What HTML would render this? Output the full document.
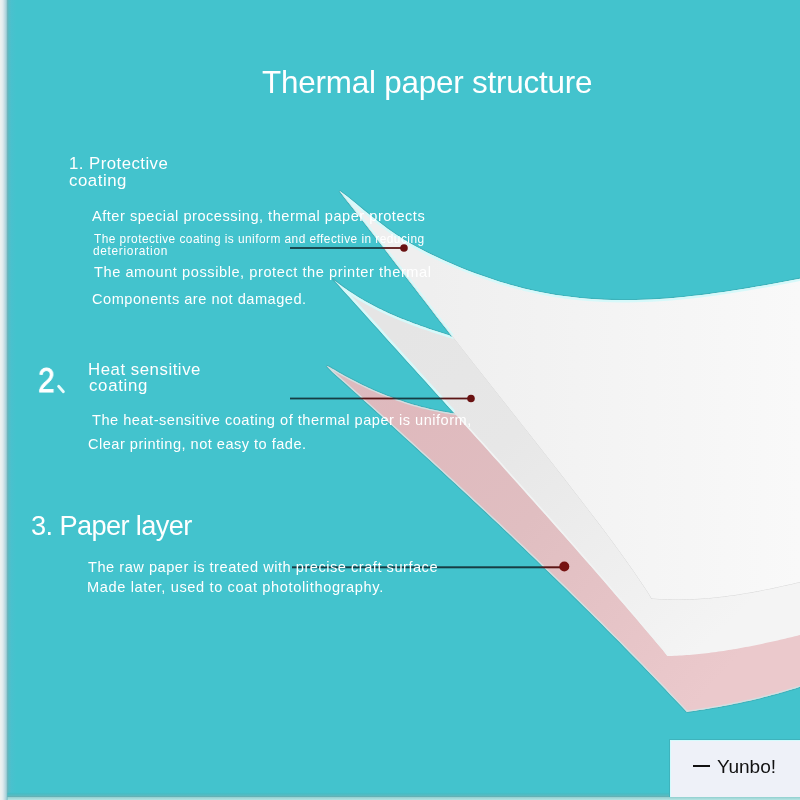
<!DOCTYPE html>
<html>
<head>
<meta charset="utf-8">
<style>
html,body{margin:0;padding:0;}
body{width:800px;height:800px;overflow:hidden;position:relative;background:#43c3cd;font-family:"Liberation Sans",sans-serif;color:#fff;}
.t{position:absolute;white-space:nowrap;line-height:1;will-change:transform;}
svg{position:absolute;left:0;top:0;}
.box{position:absolute;}
</style>
</head>
<body>
<svg width="800" height="800" viewBox="0 0 800 800">
  <defs>
    <linearGradient id="gtop" x1="430" y1="0" x2="800" y2="0" gradientUnits="userSpaceOnUse">
      <stop offset="0" stop-color="#efefef"/><stop offset="0.5" stop-color="#f4f4f4"/><stop offset="1" stop-color="#f9f9f9"/>
    </linearGradient>
    <linearGradient id="ggr" x1="400" y1="330" x2="700" y2="650" gradientUnits="userSpaceOnUse">
      <stop offset="0" stop-color="#e5e5e5"/><stop offset="0.35" stop-color="#e7e7e7"/><stop offset="1" stop-color="#f4f4f4"/>
    </linearGradient>
    <linearGradient id="gpk" x1="330" y1="370" x2="700" y2="700" gradientUnits="userSpaceOnUse">
      <stop offset="0" stop-color="#dcbcc0"/><stop offset="0.15" stop-color="#dfb9bd"/><stop offset="0.5" stop-color="#e0bec1"/><stop offset="1" stop-color="#ebc9cc"/>
    </linearGradient>
    <linearGradient id="gleft" x1="0" y1="0" x2="16" y2="0" gradientUnits="userSpaceOnUse">
      <stop offset="0" stop-color="#eef2ee"/>
      <stop offset="0.125" stop-color="#e6eef0"/>
      <stop offset="0.19" stop-color="#dce9ec"/>
      <stop offset="0.25" stop-color="#cde0e5"/>
      <stop offset="0.31" stop-color="#bedbe2"/>
      <stop offset="0.375" stop-color="#a9d2da"/>
      <stop offset="0.44" stop-color="#8cc4cc"/>
      <stop offset="0.47" stop-color="#6cb4bc"/>
      <stop offset="0.53" stop-color="#5cbac2"/>
      <stop offset="0.62" stop-color="#50bfca"/>
      <stop offset="0.72" stop-color="#49c1ce"/>
      <stop offset="1" stop-color="#43c3cd"/>
    </linearGradient>
    <linearGradient id="gbot" x1="0" y1="792" x2="0" y2="800" gradientUnits="userSpaceOnUse">
      <stop offset="0" stop-color="#43c3cd" stop-opacity="0"/>
      <stop offset="0.2" stop-color="#46bcc4"/>
      <stop offset="0.45" stop-color="#5abac0"/>
      <stop offset="0.56" stop-color="#62b0b4"/>
      <stop offset="0.68" stop-color="#96d2d2"/>
      <stop offset="0.85" stop-color="#a8dcdc"/>
      <stop offset="1" stop-color="#b6e4e2"/>
    </linearGradient>
  </defs>
  <rect x="0" y="0" width="16" height="800" fill="url(#gleft)"/>
<clipPath id="clippk"><path d="M326.4,365.7 L329.4,366.9 L331.8,368.4 L334.3,369.8 L336.7,371.3 L339.1,372.7 L341.5,374.0 L344.0,375.4 L346.4,376.7 L348.8,378.0 L351.2,379.3 L353.7,380.6 L356.1,381.8 L358.5,383.0 L360.9,384.2 L363.4,385.4 L365.8,386.5 L368.2,387.7 L370.6,388.8 L373.1,389.9 L375.5,390.9 L377.9,392.0 L380.3,393.0 L382.7,394.0 L385.2,394.9 L387.6,395.9 L390.0,396.8 L392.4,397.7 L394.9,398.6 L397.3,399.5 L399.7,400.3 L402.1,401.1 L404.6,401.9 L407.0,402.7 L409.4,403.4 L411.8,404.2 L414.3,404.9 L416.7,405.6 L419.1,406.2 L421.5,406.9 L423.9,407.5 L426.4,408.1 L428.8,408.7 L431.2,409.2 L433.6,409.8 L436.1,410.3 L438.5,410.8 L440.9,411.2 L443.3,411.7 L445.8,412.1 L448.2,412.5 L450.6,412.9 L453.0,413.3 L455.5,413.6 L457.9,413.9 L460.3,414.2 L462.7,414.5 L465.2,414.8 L467.6,415.0 L470.0,415.3 L812,415.3 L812,682.8 L812.0,682.8 L809.9,683.5 L807.8,684.3 L805.6,685.0 L803.5,685.7 L801.4,686.4 L799.3,687.1 L797.2,687.7 L795.1,688.4 L792.9,689.1 L790.8,689.7 L788.7,690.3 L786.6,691.0 L784.5,691.6 L782.3,692.2 L780.2,692.8 L778.1,693.4 L776.0,694.0 L773.9,694.6 L771.7,695.1 L769.6,695.7 L767.5,696.2 L765.4,696.8 L763.3,697.3 L761.2,697.9 L759.0,698.4 L756.9,698.9 L754.8,699.4 L752.7,699.9 L750.6,700.4 L748.4,700.9 L746.3,701.3 L744.2,701.8 L742.1,702.3 L740.0,702.7 L737.8,703.2 L735.7,703.6 L733.6,704.0 L731.5,704.5 L729.4,704.9 L727.3,705.3 L725.1,705.7 L723.0,706.1 L720.9,706.5 L718.8,706.9 L716.7,707.2 L714.5,707.6 L712.4,708.0 L710.3,708.3 L708.2,708.7 L706.1,709.0 L703.9,709.4 L701.8,709.7 L699.7,710.0 L697.6,710.3 L695.5,710.7 L693.4,711.0 L691.2,711.3 L689.1,711.6 L686.9,711.9 L686.9,711.9 L681.3,706.1 L675.8,700.3 L670.2,694.4 L664.7,688.5 L659.1,682.7 L653.4,676.8 L647.8,670.9 L642.1,665.1 L636.4,659.2 L630.7,653.4 L624.9,647.5 L619.2,641.6 L613.3,635.8 L607.5,629.9 L601.7,624.0 L595.8,618.2 L589.9,612.3 L584.0,606.4 L578.0,600.6 L572.1,594.7 L566.1,588.8 L560.1,583.0 L554.0,577.1 L548.0,571.3 L541.9,565.4 L535.8,559.5 L529.7,553.7 L523.6,547.8 L517.4,541.9 L511.3,536.1 L505.1,530.2 L498.9,524.3 L492.6,518.5 L486.4,512.6 L480.1,506.7 L473.9,500.9 L467.6,495.0 L461.3,489.2 L455.0,483.3 L448.6,477.4 L442.3,471.6 L435.9,465.7 L429.5,459.8 L423.1,454.0 L416.7,448.1 L410.3,442.2 L403.9,436.4 L397.4,430.5 L391.0,424.6 L384.5,418.8 L378.0,412.9 L371.5,407.1 L365.0,401.2 L358.5,395.3 L352.0,389.5 L345.5,383.6 L338.9,377.7 L332.4,371.9 L326.4,365.7 Z"/></clipPath>
<path d="M326.4,365.7 L329.4,366.9 L331.8,368.4 L334.3,369.8 L336.7,371.3 L339.1,372.7 L341.5,374.0 L344.0,375.4 L346.4,376.7 L348.8,378.0 L351.2,379.3 L353.7,380.6 L356.1,381.8 L358.5,383.0 L360.9,384.2 L363.4,385.4 L365.8,386.5 L368.2,387.7 L370.6,388.8 L373.1,389.9 L375.5,390.9 L377.9,392.0 L380.3,393.0 L382.7,394.0 L385.2,394.9 L387.6,395.9 L390.0,396.8 L392.4,397.7 L394.9,398.6 L397.3,399.5 L399.7,400.3 L402.1,401.1 L404.6,401.9 L407.0,402.7 L409.4,403.4 L411.8,404.2 L414.3,404.9 L416.7,405.6 L419.1,406.2 L421.5,406.9 L423.9,407.5 L426.4,408.1 L428.8,408.7 L431.2,409.2 L433.6,409.8 L436.1,410.3 L438.5,410.8 L440.9,411.2 L443.3,411.7 L445.8,412.1 L448.2,412.5 L450.6,412.9 L453.0,413.3 L455.5,413.6 L457.9,413.9 L460.3,414.2 L462.7,414.5 L465.2,414.8 L467.6,415.0 L470.0,415.3 M326.4,365.7 L332.4,371.9 L338.9,377.7 L345.5,383.6 L352.0,389.5 L358.5,395.3 L365.0,401.2 L371.5,407.1 L378.0,412.9 L384.5,418.8 L391.0,424.6 L397.4,430.5 L403.9,436.4 L410.3,442.2 L416.7,448.1 L423.1,454.0 L429.5,459.8 L435.9,465.7 L442.3,471.6 L448.6,477.4 L455.0,483.3 L461.3,489.2 L467.6,495.0 L473.9,500.9 L480.1,506.7 L486.4,512.6 L492.6,518.5 L498.9,524.3 L505.1,530.2 L511.3,536.1 L517.4,541.9 L523.6,547.8 L529.7,553.7 L535.8,559.5 L541.9,565.4 L548.0,571.3 L554.0,577.1 L560.1,583.0 L566.1,588.8 L572.1,594.7 L578.0,600.6 L584.0,606.4 L589.9,612.3 L595.8,618.2 L601.7,624.0 L607.5,629.9 L613.3,635.8 L619.2,641.6 L624.9,647.5 L630.7,653.4 L636.4,659.2 L642.1,665.1 L647.8,670.9 L653.4,676.8 L659.1,682.7 L664.7,688.5 L670.2,694.4 L675.8,700.3 L681.3,706.1 L686.9,711.9 M686.9,711.9 L689.1,711.6 L691.2,711.3 L693.4,711.0 L695.5,710.7 L697.6,710.3 L699.7,710.0 L701.8,709.7 L703.9,709.4 L706.1,709.0 L708.2,708.7 L710.3,708.3 L712.4,708.0 L714.5,707.6 L716.7,707.2 L718.8,706.9 L720.9,706.5 L723.0,706.1 L725.1,705.7 L727.3,705.3 L729.4,704.9 L731.5,704.5 L733.6,704.0 L735.7,703.6 L737.8,703.2 L740.0,702.7 L742.1,702.3 L744.2,701.8 L746.3,701.3 L748.4,700.9 L750.6,700.4 L752.7,699.9 L754.8,699.4 L756.9,698.9 L759.0,698.4 L761.2,697.9 L763.3,697.3 L765.4,696.8 L767.5,696.2 L769.6,695.7 L771.7,695.1 L773.9,694.6 L776.0,694.0 L778.1,693.4 L780.2,692.8 L782.3,692.2 L784.5,691.6 L786.6,691.0 L788.7,690.3 L790.8,689.7 L792.9,689.1 L795.1,688.4 L797.2,687.7 L799.3,687.1 L801.4,686.4 L803.5,685.7 L805.6,685.0 L807.8,684.3 L809.9,683.5 L812.0,682.8" fill="none" stroke="#3eb2ba" stroke-width="2.2" stroke-linejoin="round"/>
<path d="M326.4,365.7 L329.4,366.9 L331.8,368.4 L334.3,369.8 L336.7,371.3 L339.1,372.7 L341.5,374.0 L344.0,375.4 L346.4,376.7 L348.8,378.0 L351.2,379.3 L353.7,380.6 L356.1,381.8 L358.5,383.0 L360.9,384.2 L363.4,385.4 L365.8,386.5 L368.2,387.7 L370.6,388.8 L373.1,389.9 L375.5,390.9 L377.9,392.0 L380.3,393.0 L382.7,394.0 L385.2,394.9 L387.6,395.9 L390.0,396.8 L392.4,397.7 L394.9,398.6 L397.3,399.5 L399.7,400.3 L402.1,401.1 L404.6,401.9 L407.0,402.7 L409.4,403.4 L411.8,404.2 L414.3,404.9 L416.7,405.6 L419.1,406.2 L421.5,406.9 L423.9,407.5 L426.4,408.1 L428.8,408.7 L431.2,409.2 L433.6,409.8 L436.1,410.3 L438.5,410.8 L440.9,411.2 L443.3,411.7 L445.8,412.1 L448.2,412.5 L450.6,412.9 L453.0,413.3 L455.5,413.6 L457.9,413.9 L460.3,414.2 L462.7,414.5 L465.2,414.8 L467.6,415.0 L470.0,415.3 L812,415.3 L812,682.8 L812.0,682.8 L809.9,683.5 L807.8,684.3 L805.6,685.0 L803.5,685.7 L801.4,686.4 L799.3,687.1 L797.2,687.7 L795.1,688.4 L792.9,689.1 L790.8,689.7 L788.7,690.3 L786.6,691.0 L784.5,691.6 L782.3,692.2 L780.2,692.8 L778.1,693.4 L776.0,694.0 L773.9,694.6 L771.7,695.1 L769.6,695.7 L767.5,696.2 L765.4,696.8 L763.3,697.3 L761.2,697.9 L759.0,698.4 L756.9,698.9 L754.8,699.4 L752.7,699.9 L750.6,700.4 L748.4,700.9 L746.3,701.3 L744.2,701.8 L742.1,702.3 L740.0,702.7 L737.8,703.2 L735.7,703.6 L733.6,704.0 L731.5,704.5 L729.4,704.9 L727.3,705.3 L725.1,705.7 L723.0,706.1 L720.9,706.5 L718.8,706.9 L716.7,707.2 L714.5,707.6 L712.4,708.0 L710.3,708.3 L708.2,708.7 L706.1,709.0 L703.9,709.4 L701.8,709.7 L699.7,710.0 L697.6,710.3 L695.5,710.7 L693.4,711.0 L691.2,711.3 L689.1,711.6 L686.9,711.9 L686.9,711.9 L681.3,706.1 L675.8,700.3 L670.2,694.4 L664.7,688.5 L659.1,682.7 L653.4,676.8 L647.8,670.9 L642.1,665.1 L636.4,659.2 L630.7,653.4 L624.9,647.5 L619.2,641.6 L613.3,635.8 L607.5,629.9 L601.7,624.0 L595.8,618.2 L589.9,612.3 L584.0,606.4 L578.0,600.6 L572.1,594.7 L566.1,588.8 L560.1,583.0 L554.0,577.1 L548.0,571.3 L541.9,565.4 L535.8,559.5 L529.7,553.7 L523.6,547.8 L517.4,541.9 L511.3,536.1 L505.1,530.2 L498.9,524.3 L492.6,518.5 L486.4,512.6 L480.1,506.7 L473.9,500.9 L467.6,495.0 L461.3,489.2 L455.0,483.3 L448.6,477.4 L442.3,471.6 L435.9,465.7 L429.5,459.8 L423.1,454.0 L416.7,448.1 L410.3,442.2 L403.9,436.4 L397.4,430.5 L391.0,424.6 L384.5,418.8 L378.0,412.9 L371.5,407.1 L365.0,401.2 L358.5,395.3 L352.0,389.5 L345.5,383.6 L338.9,377.7 L332.4,371.9 L326.4,365.7 Z" fill="url(#gpk)"/>
<path d="M326.4,365.7 L329.4,366.9 L331.8,368.4 L334.3,369.8 L336.7,371.3 L339.1,372.7 L341.5,374.0 L344.0,375.4 L346.4,376.7 L348.8,378.0 L351.2,379.3 L353.7,380.6 L356.1,381.8 L358.5,383.0 L360.9,384.2 L363.4,385.4 L365.8,386.5 L368.2,387.7 L370.6,388.8 L373.1,389.9 L375.5,390.9 L377.9,392.0 L380.3,393.0 L382.7,394.0 L385.2,394.9 L387.6,395.9 L390.0,396.8 L392.4,397.7 L394.9,398.6 L397.3,399.5 L399.7,400.3 L402.1,401.1 L404.6,401.9 L407.0,402.7 L409.4,403.4 L411.8,404.2 L414.3,404.9 L416.7,405.6 L419.1,406.2 L421.5,406.9 L423.9,407.5 L426.4,408.1 L428.8,408.7 L431.2,409.2 L433.6,409.8 L436.1,410.3 L438.5,410.8 L440.9,411.2 L443.3,411.7 L445.8,412.1 L448.2,412.5 L450.6,412.9 L453.0,413.3 L455.5,413.6 L457.9,413.9 L460.3,414.2 L462.7,414.5 L465.2,414.8 L467.6,415.0 L470.0,415.3 M326.4,365.7 L332.4,371.9 L338.9,377.7 L345.5,383.6 L352.0,389.5 L358.5,395.3 L365.0,401.2 L371.5,407.1 L378.0,412.9 L384.5,418.8 L391.0,424.6 L397.4,430.5 L403.9,436.4 L410.3,442.2 L416.7,448.1 L423.1,454.0 L429.5,459.8 L435.9,465.7 L442.3,471.6 L448.6,477.4 L455.0,483.3 L461.3,489.2 L467.6,495.0 L473.9,500.9 L480.1,506.7 L486.4,512.6 L492.6,518.5 L498.9,524.3 L505.1,530.2 L511.3,536.1 L517.4,541.9 L523.6,547.8 L529.7,553.7 L535.8,559.5 L541.9,565.4 L548.0,571.3 L554.0,577.1 L560.1,583.0 L566.1,588.8 L572.1,594.7 L578.0,600.6 L584.0,606.4 L589.9,612.3 L595.8,618.2 L601.7,624.0 L607.5,629.9 L613.3,635.8 L619.2,641.6 L624.9,647.5 L630.7,653.4 L636.4,659.2 L642.1,665.1 L647.8,670.9 L653.4,676.8 L659.1,682.7 L664.7,688.5 L670.2,694.4 L675.8,700.3 L681.3,706.1 L686.9,711.9 M686.9,711.9 L689.1,711.6 L691.2,711.3 L693.4,711.0 L695.5,710.7 L697.6,710.3 L699.7,710.0 L701.8,709.7 L703.9,709.4 L706.1,709.0 L708.2,708.7 L710.3,708.3 L712.4,708.0 L714.5,707.6 L716.7,707.2 L718.8,706.9 L720.9,706.5 L723.0,706.1 L725.1,705.7 L727.3,705.3 L729.4,704.9 L731.5,704.5 L733.6,704.0 L735.7,703.6 L737.8,703.2 L740.0,702.7 L742.1,702.3 L744.2,701.8 L746.3,701.3 L748.4,700.9 L750.6,700.4 L752.7,699.9 L754.8,699.4 L756.9,698.9 L759.0,698.4 L761.2,697.9 L763.3,697.3 L765.4,696.8 L767.5,696.2 L769.6,695.7 L771.7,695.1 L773.9,694.6 L776.0,694.0 L778.1,693.4 L780.2,692.8 L782.3,692.2 L784.5,691.6 L786.6,691.0 L788.7,690.3 L790.8,689.7 L792.9,689.1 L795.1,688.4 L797.2,687.7 L799.3,687.1 L801.4,686.4 L803.5,685.7 L805.6,685.0 L807.8,684.3 L809.9,683.5 L812.0,682.8" fill="none" stroke="#cfe1e3" stroke-width="2.6" stroke-linejoin="round" clip-path="url(#clippk)"/>
<clipPath id="clipgr"><path d="M332.1,278.3 L334.2,280.4 L336.6,282.2 L338.9,284.0 L341.3,285.7 L343.6,287.4 L345.9,289.1 L348.3,290.7 L350.6,292.3 L353.0,293.8 L355.3,295.3 L357.6,296.8 L360.0,298.2 L362.3,299.6 L364.7,300.9 L367.0,302.3 L369.4,303.6 L371.7,304.8 L374.0,306.0 L376.4,307.2 L378.7,308.4 L381.1,309.6 L383.4,310.7 L385.7,311.8 L388.1,312.9 L390.4,313.9 L392.8,314.9 L395.1,316.0 L397.4,316.9 L399.8,317.9 L402.1,318.9 L404.5,319.8 L406.8,320.7 L409.1,321.6 L411.5,322.5 L413.8,323.4 L416.2,324.3 L418.5,325.1 L420.8,326.0 L423.2,326.8 L425.5,327.6 L427.9,328.4 L430.2,329.2 L432.5,330.0 L434.9,330.8 L437.2,331.5 L439.6,332.3 L441.9,333.0 L444.3,333.7 L446.6,334.5 L448.9,335.2 L451.3,335.9 L453.6,336.6 L456.0,337.3 L458.3,338.0 L460.6,338.7 L463.0,339.4 L465.3,340.1 L467.7,340.8 L470.0,341.4 L812,341.4 L812,632.0 L812.0,632.0 L809.5,632.6 L807.1,633.3 L804.6,633.9 L802.2,634.5 L799.7,635.1 L797.3,635.7 L794.8,636.3 L792.3,636.9 L789.9,637.5 L787.4,638.1 L785.0,638.7 L782.5,639.3 L780.1,639.8 L777.6,640.4 L775.1,641.0 L772.7,641.5 L770.2,642.1 L767.8,642.6 L765.3,643.1 L762.8,643.7 L760.4,644.2 L757.9,644.7 L755.5,645.2 L753.0,645.7 L750.6,646.2 L748.1,646.7 L745.6,647.1 L743.2,647.6 L740.7,648.0 L738.3,648.5 L735.8,648.9 L733.4,649.3 L730.9,649.7 L728.4,650.1 L726.0,650.5 L723.5,650.9 L721.1,651.2 L718.6,651.6 L716.2,651.9 L713.7,652.3 L711.2,652.6 L708.8,652.9 L706.3,653.2 L703.9,653.5 L701.4,653.7 L698.9,654.0 L696.5,654.2 L694.0,654.5 L691.6,654.7 L689.1,654.9 L686.7,655.1 L684.2,655.2 L681.7,655.4 L679.3,655.5 L676.8,655.7 L674.4,655.8 L671.9,655.9 L669.5,656.0 L667.4,656.0 L667.4,656.0 L662.4,649.6 L657.0,643.2 L651.6,636.8 L646.2,630.4 L640.7,624.0 L635.3,617.6 L629.8,611.2 L624.3,604.8 L618.8,598.4 L613.2,591.9 L607.7,585.5 L602.1,579.1 L596.6,572.7 L591.0,566.3 L585.4,559.9 L579.7,553.5 L574.1,547.1 L568.5,540.7 L562.8,534.3 L557.2,527.9 L551.5,521.5 L545.8,515.1 L540.1,508.7 L534.4,502.3 L528.7,495.9 L523.0,489.5 L517.2,483.1 L511.5,476.7 L505.7,470.3 L500.0,463.8 L494.2,457.4 L488.5,451.0 L482.7,444.6 L476.9,438.2 L471.1,431.8 L465.4,425.4 L459.6,419.0 L453.8,412.6 L448.0,406.2 L442.2,399.8 L436.4,393.4 L430.6,387.0 L424.8,380.6 L419.0,374.2 L413.2,367.8 L407.4,361.4 L401.6,355.0 L395.8,348.6 L390.0,342.2 L384.2,335.7 L378.5,329.3 L372.7,322.9 L366.9,316.5 L361.1,310.1 L355.4,303.7 L349.6,297.3 L343.8,290.9 L338.1,284.5 L332.1,278.3 Z"/></clipPath>
<path d="M332.1,278.3 L334.2,280.4 L336.6,282.2 L338.9,284.0 L341.3,285.7 L343.6,287.4 L345.9,289.1 L348.3,290.7 L350.6,292.3 L353.0,293.8 L355.3,295.3 L357.6,296.8 L360.0,298.2 L362.3,299.6 L364.7,300.9 L367.0,302.3 L369.4,303.6 L371.7,304.8 L374.0,306.0 L376.4,307.2 L378.7,308.4 L381.1,309.6 L383.4,310.7 L385.7,311.8 L388.1,312.9 L390.4,313.9 L392.8,314.9 L395.1,316.0 L397.4,316.9 L399.8,317.9 L402.1,318.9 L404.5,319.8 L406.8,320.7 L409.1,321.6 L411.5,322.5 L413.8,323.4 L416.2,324.3 L418.5,325.1 L420.8,326.0 L423.2,326.8 L425.5,327.6 L427.9,328.4 L430.2,329.2 L432.5,330.0 L434.9,330.8 L437.2,331.5 L439.6,332.3 L441.9,333.0 L444.3,333.7 L446.6,334.5 L448.9,335.2 L451.3,335.9 L453.6,336.6 L456.0,337.3 L458.3,338.0 L460.6,338.7 L463.0,339.4 L465.3,340.1 L467.7,340.8 L470.0,341.4 M332.1,278.3 L338.1,284.5 L343.8,290.9 L349.6,297.3 L355.4,303.7 L361.1,310.1 L366.9,316.5 L372.7,322.9 L378.5,329.3 L384.2,335.7 L390.0,342.2 L395.8,348.6 L401.6,355.0 L407.4,361.4 L413.2,367.8 L419.0,374.2 L424.8,380.6 L430.6,387.0 L436.4,393.4 L442.2,399.8 L448.0,406.2 L453.8,412.6" fill="none" stroke="#3eb2ba" stroke-width="2.2" stroke-linejoin="round"/>
<path d="M332.1,278.3 L334.2,280.4 L336.6,282.2 L338.9,284.0 L341.3,285.7 L343.6,287.4 L345.9,289.1 L348.3,290.7 L350.6,292.3 L353.0,293.8 L355.3,295.3 L357.6,296.8 L360.0,298.2 L362.3,299.6 L364.7,300.9 L367.0,302.3 L369.4,303.6 L371.7,304.8 L374.0,306.0 L376.4,307.2 L378.7,308.4 L381.1,309.6 L383.4,310.7 L385.7,311.8 L388.1,312.9 L390.4,313.9 L392.8,314.9 L395.1,316.0 L397.4,316.9 L399.8,317.9 L402.1,318.9 L404.5,319.8 L406.8,320.7 L409.1,321.6 L411.5,322.5 L413.8,323.4 L416.2,324.3 L418.5,325.1 L420.8,326.0 L423.2,326.8 L425.5,327.6 L427.9,328.4 L430.2,329.2 L432.5,330.0 L434.9,330.8 L437.2,331.5 L439.6,332.3 L441.9,333.0 L444.3,333.7 L446.6,334.5 L448.9,335.2 L451.3,335.9 L453.6,336.6 L456.0,337.3 L458.3,338.0 L460.6,338.7 L463.0,339.4 L465.3,340.1 L467.7,340.8 L470.0,341.4 L812,341.4 L812,632.0 L812.0,632.0 L809.5,632.6 L807.1,633.3 L804.6,633.9 L802.2,634.5 L799.7,635.1 L797.3,635.7 L794.8,636.3 L792.3,636.9 L789.9,637.5 L787.4,638.1 L785.0,638.7 L782.5,639.3 L780.1,639.8 L777.6,640.4 L775.1,641.0 L772.7,641.5 L770.2,642.1 L767.8,642.6 L765.3,643.1 L762.8,643.7 L760.4,644.2 L757.9,644.7 L755.5,645.2 L753.0,645.7 L750.6,646.2 L748.1,646.7 L745.6,647.1 L743.2,647.6 L740.7,648.0 L738.3,648.5 L735.8,648.9 L733.4,649.3 L730.9,649.7 L728.4,650.1 L726.0,650.5 L723.5,650.9 L721.1,651.2 L718.6,651.6 L716.2,651.9 L713.7,652.3 L711.2,652.6 L708.8,652.9 L706.3,653.2 L703.9,653.5 L701.4,653.7 L698.9,654.0 L696.5,654.2 L694.0,654.5 L691.6,654.7 L689.1,654.9 L686.7,655.1 L684.2,655.2 L681.7,655.4 L679.3,655.5 L676.8,655.7 L674.4,655.8 L671.9,655.9 L669.5,656.0 L667.4,656.0 L667.4,656.0 L662.4,649.6 L657.0,643.2 L651.6,636.8 L646.2,630.4 L640.7,624.0 L635.3,617.6 L629.8,611.2 L624.3,604.8 L618.8,598.4 L613.2,591.9 L607.7,585.5 L602.1,579.1 L596.6,572.7 L591.0,566.3 L585.4,559.9 L579.7,553.5 L574.1,547.1 L568.5,540.7 L562.8,534.3 L557.2,527.9 L551.5,521.5 L545.8,515.1 L540.1,508.7 L534.4,502.3 L528.7,495.9 L523.0,489.5 L517.2,483.1 L511.5,476.7 L505.7,470.3 L500.0,463.8 L494.2,457.4 L488.5,451.0 L482.7,444.6 L476.9,438.2 L471.1,431.8 L465.4,425.4 L459.6,419.0 L453.8,412.6 L448.0,406.2 L442.2,399.8 L436.4,393.4 L430.6,387.0 L424.8,380.6 L419.0,374.2 L413.2,367.8 L407.4,361.4 L401.6,355.0 L395.8,348.6 L390.0,342.2 L384.2,335.7 L378.5,329.3 L372.7,322.9 L366.9,316.5 L361.1,310.1 L355.4,303.7 L349.6,297.3 L343.8,290.9 L338.1,284.5 L332.1,278.3 Z" fill="url(#ggr)"/>
<path d="M332.1,278.3 L334.2,280.4 L336.6,282.2 L338.9,284.0 L341.3,285.7 L343.6,287.4 L345.9,289.1 L348.3,290.7 L350.6,292.3 L353.0,293.8 L355.3,295.3 L357.6,296.8 L360.0,298.2 L362.3,299.6 L364.7,300.9 L367.0,302.3 L369.4,303.6 L371.7,304.8 L374.0,306.0 L376.4,307.2 L378.7,308.4 L381.1,309.6 L383.4,310.7 L385.7,311.8 L388.1,312.9 L390.4,313.9 L392.8,314.9 L395.1,316.0 L397.4,316.9 L399.8,317.9 L402.1,318.9 L404.5,319.8 L406.8,320.7 L409.1,321.6 L411.5,322.5 L413.8,323.4 L416.2,324.3 L418.5,325.1 L420.8,326.0 L423.2,326.8 L425.5,327.6 L427.9,328.4 L430.2,329.2 L432.5,330.0 L434.9,330.8 L437.2,331.5 L439.6,332.3 L441.9,333.0 L444.3,333.7 L446.6,334.5 L448.9,335.2 L451.3,335.9 L453.6,336.6 L456.0,337.3 L458.3,338.0 L460.6,338.7 L463.0,339.4 L465.3,340.1 L467.7,340.8 L470.0,341.4 M332.1,278.3 L338.1,284.5 L343.8,290.9 L349.6,297.3 L355.4,303.7 L361.1,310.1 L366.9,316.5 L372.7,322.9 L378.5,329.3 L384.2,335.7 L390.0,342.2 L395.8,348.6 L401.6,355.0 L407.4,361.4 L413.2,367.8 L419.0,374.2 L424.8,380.6 L430.6,387.0 L436.4,393.4 L442.2,399.8 L448.0,406.2 L453.8,412.6" fill="none" stroke="#d6f9fa" stroke-width="4.6" stroke-linejoin="round" clip-path="url(#clipgr)"/>
<path d="M459.6,419.0 L465.4,425.4 L471.1,431.8 L476.9,438.2 L482.7,444.6 L488.5,451.0 L494.2,457.4 L500.0,463.8 L505.7,470.3 L511.5,476.7 L517.2,483.1 L523.0,489.5 L528.7,495.9 L534.4,502.3 L540.1,508.7 L545.8,515.1 L551.5,521.5 L557.2,527.9 L562.8,534.3 L568.5,540.7 L574.1,547.1 L579.7,553.5 L585.4,559.9 L591.0,566.3 L596.6,572.7 L602.1,579.1 L607.7,585.5 L613.2,591.9 L618.8,598.4 L624.3,604.8 L629.8,611.2 L635.3,617.6 L640.7,624.0 L646.2,630.4 L651.6,636.8 L657.0,643.2 L662.4,649.6 L667.4,656.0" fill="none" stroke="#f1f3f3" stroke-width="3.2" clip-path="url(#clipgr)"/>
<clipPath id="cliptop"><path d="M339.4,190.8 L347.5,196.8 L355.5,203.3 L363.5,209.9 L371.5,216.3 L379.5,222.6 L387.6,228.7 L395.6,234.3 L403.6,239.5 L411.6,244.2 L419.6,248.6 L427.6,252.7 L435.6,256.6 L443.6,260.3 L451.6,263.8 L459.6,267.2 L467.6,270.4 L475.6,273.4 L483.7,276.3 L491.7,279.1 L499.7,281.7 L507.7,284.1 L515.7,286.3 L523.7,288.4 L531.7,290.3 L539.7,292.0 L547.7,293.5 L555.7,294.9 L563.7,296.1 L571.7,297.1 L579.8,298.0 L587.8,298.7 L595.8,299.2 L603.8,299.7 L611.8,299.9 L619.8,300.1 L627.8,300.1 L635.8,300.0 L643.8,299.7 L651.8,299.4 L659.8,298.9 L667.8,298.4 L675.9,297.7 L683.9,297.0 L691.9,296.1 L699.9,295.2 L707.9,294.2 L715.9,293.1 L723.9,292.0 L731.9,290.8 L739.9,289.5 L747.9,288.2 L755.9,286.8 L763.9,285.4 L772.0,284.0 L780.0,282.5 L788.0,281.0 L796.0,279.4 L804.0,277.9 L812.0,276.3 L812,276.3 L812,579.5 L812.0,579.5 L809.3,580.2 L806.5,580.9 L803.8,581.5 L801.1,582.2 L798.4,582.9 L795.6,583.5 L792.9,584.2 L790.2,584.8 L787.4,585.4 L784.7,586.0 L782.0,586.6 L779.3,587.2 L776.5,587.8 L773.8,588.4 L771.1,589.0 L768.3,589.6 L765.6,590.1 L762.9,590.6 L760.2,591.2 L757.4,591.7 L754.7,592.2 L752.0,592.7 L749.2,593.2 L746.5,593.6 L743.8,594.1 L741.1,594.5 L738.3,595.0 L735.6,595.4 L732.9,595.8 L730.1,596.1 L727.4,596.5 L724.7,596.9 L721.9,597.2 L719.2,597.5 L716.5,597.8 L713.8,598.1 L711.0,598.4 L708.3,598.6 L705.6,598.8 L702.8,599.0 L700.1,599.2 L697.4,599.4 L694.7,599.5 L691.9,599.7 L689.2,599.8 L686.5,599.9 L683.7,599.9 L681.0,600.0 L678.3,600.0 L675.6,600.0 L672.8,600.0 L670.1,599.9 L667.4,599.8 L664.6,599.7 L661.9,599.6 L659.2,599.5 L656.5,599.3 L653.7,599.1 L651.4,598.9 L651.4,598.9 L647.3,592.1 L642.7,585.2 L638.0,578.3 L633.3,571.3 L628.4,564.4 L623.5,557.5 L618.5,550.6 L613.5,543.7 L608.4,536.8 L603.2,529.8 L598.0,522.9 L592.7,516.0 L587.4,509.1 L582.1,502.2 L576.8,495.3 L571.4,488.4 L566.1,481.4 L560.7,474.5 L555.3,467.6 L549.9,460.7 L544.5,453.8 L539.1,446.9 L533.6,439.9 L528.2,433.0 L522.7,426.1 L517.3,419.2 L511.8,412.3 L506.4,405.4 L500.9,398.5 L495.4,391.5 L490.0,384.6 L484.5,377.7 L479.1,370.8 L473.6,363.9 L468.2,357.0 L462.8,350.1 L457.4,343.1 L451.9,336.2 L446.6,329.3 L441.2,322.4 L435.8,315.5 L430.5,308.6 L425.1,301.6 L419.8,294.7 L414.5,287.8 L409.2,280.9 L403.8,274.0 L398.5,267.1 L393.2,260.2 L387.9,253.2 L382.6,246.3 L377.2,239.4 L371.9,232.5 L366.5,225.6 L361.1,218.7 L355.7,211.7 L350.2,204.8 L344.8,197.9 L339.4,190.8 Z"/></clipPath>
<path d="M339.4,190.8 L347.5,196.8 L355.5,203.3 L363.5,209.9 L371.5,216.3 L379.5,222.6 L387.6,228.7 L395.6,234.3 L403.6,239.5 L411.6,244.2 L419.6,248.6 L427.6,252.7 L435.6,256.6 L443.6,260.3 L451.6,263.8 L459.6,267.2 L467.6,270.4 L475.6,273.4 L483.7,276.3 L491.7,279.1 L499.7,281.7 L507.7,284.1 L515.7,286.3 L523.7,288.4 L531.7,290.3 L539.7,292.0 L547.7,293.5 L555.7,294.9 L563.7,296.1 L571.7,297.1 L579.8,298.0 L587.8,298.7 L595.8,299.2 L603.8,299.7 L611.8,299.9 L619.8,300.1 L627.8,300.1 L635.8,300.0 L643.8,299.7 L651.8,299.4 L659.8,298.9 L667.8,298.4 L675.9,297.7 L683.9,297.0 L691.9,296.1 L699.9,295.2 L707.9,294.2 L715.9,293.1 L723.9,292.0 L731.9,290.8 L739.9,289.5 L747.9,288.2 L755.9,286.8 L763.9,285.4 L772.0,284.0 L780.0,282.5 L788.0,281.0 L796.0,279.4 L804.0,277.9 L812.0,276.3 M339.4,190.8 L344.8,197.9 L350.2,204.8 L355.7,211.7 L361.1,218.7 L366.5,225.6 L371.9,232.5 L377.2,239.4 L382.6,246.3 L387.9,253.2 L393.2,260.2 L398.5,267.1 L403.8,274.0 L409.2,280.9 L414.5,287.8 L419.8,294.7 L425.1,301.6 L430.5,308.6 L435.8,315.5 L441.2,322.4 L446.6,329.3 L451.9,336.2" fill="none" stroke="#3eb2ba" stroke-width="2.2" stroke-linejoin="round"/>
<path d="M339.4,190.8 L347.5,196.8 L355.5,203.3 L363.5,209.9 L371.5,216.3 L379.5,222.6 L387.6,228.7 L395.6,234.3 L403.6,239.5 L411.6,244.2 L419.6,248.6 L427.6,252.7 L435.6,256.6 L443.6,260.3 L451.6,263.8 L459.6,267.2 L467.6,270.4 L475.6,273.4 L483.7,276.3 L491.7,279.1 L499.7,281.7 L507.7,284.1 L515.7,286.3 L523.7,288.4 L531.7,290.3 L539.7,292.0 L547.7,293.5 L555.7,294.9 L563.7,296.1 L571.7,297.1 L579.8,298.0 L587.8,298.7 L595.8,299.2 L603.8,299.7 L611.8,299.9 L619.8,300.1 L627.8,300.1 L635.8,300.0 L643.8,299.7 L651.8,299.4 L659.8,298.9 L667.8,298.4 L675.9,297.7 L683.9,297.0 L691.9,296.1 L699.9,295.2 L707.9,294.2 L715.9,293.1 L723.9,292.0 L731.9,290.8 L739.9,289.5 L747.9,288.2 L755.9,286.8 L763.9,285.4 L772.0,284.0 L780.0,282.5 L788.0,281.0 L796.0,279.4 L804.0,277.9 L812.0,276.3 L812,276.3 L812,579.5 L812.0,579.5 L809.3,580.2 L806.5,580.9 L803.8,581.5 L801.1,582.2 L798.4,582.9 L795.6,583.5 L792.9,584.2 L790.2,584.8 L787.4,585.4 L784.7,586.0 L782.0,586.6 L779.3,587.2 L776.5,587.8 L773.8,588.4 L771.1,589.0 L768.3,589.6 L765.6,590.1 L762.9,590.6 L760.2,591.2 L757.4,591.7 L754.7,592.2 L752.0,592.7 L749.2,593.2 L746.5,593.6 L743.8,594.1 L741.1,594.5 L738.3,595.0 L735.6,595.4 L732.9,595.8 L730.1,596.1 L727.4,596.5 L724.7,596.9 L721.9,597.2 L719.2,597.5 L716.5,597.8 L713.8,598.1 L711.0,598.4 L708.3,598.6 L705.6,598.8 L702.8,599.0 L700.1,599.2 L697.4,599.4 L694.7,599.5 L691.9,599.7 L689.2,599.8 L686.5,599.9 L683.7,599.9 L681.0,600.0 L678.3,600.0 L675.6,600.0 L672.8,600.0 L670.1,599.9 L667.4,599.8 L664.6,599.7 L661.9,599.6 L659.2,599.5 L656.5,599.3 L653.7,599.1 L651.4,598.9 L651.4,598.9 L647.3,592.1 L642.7,585.2 L638.0,578.3 L633.3,571.3 L628.4,564.4 L623.5,557.5 L618.5,550.6 L613.5,543.7 L608.4,536.8 L603.2,529.8 L598.0,522.9 L592.7,516.0 L587.4,509.1 L582.1,502.2 L576.8,495.3 L571.4,488.4 L566.1,481.4 L560.7,474.5 L555.3,467.6 L549.9,460.7 L544.5,453.8 L539.1,446.9 L533.6,439.9 L528.2,433.0 L522.7,426.1 L517.3,419.2 L511.8,412.3 L506.4,405.4 L500.9,398.5 L495.4,391.5 L490.0,384.6 L484.5,377.7 L479.1,370.8 L473.6,363.9 L468.2,357.0 L462.8,350.1 L457.4,343.1 L451.9,336.2 L446.6,329.3 L441.2,322.4 L435.8,315.5 L430.5,308.6 L425.1,301.6 L419.8,294.7 L414.5,287.8 L409.2,280.9 L403.8,274.0 L398.5,267.1 L393.2,260.2 L387.9,253.2 L382.6,246.3 L377.2,239.4 L371.9,232.5 L366.5,225.6 L361.1,218.7 L355.7,211.7 L350.2,204.8 L344.8,197.9 L339.4,190.8 Z" fill="url(#gtop)"/>
<path d="M339.4,190.8 L347.5,196.8 L355.5,203.3 L363.5,209.9 L371.5,216.3 L379.5,222.6 L387.6,228.7 L395.6,234.3 L403.6,239.5 L411.6,244.2 L419.6,248.6 L427.6,252.7 L435.6,256.6 L443.6,260.3 L451.6,263.8 L459.6,267.2 L467.6,270.4 L475.6,273.4 L483.7,276.3 L491.7,279.1 L499.7,281.7 L507.7,284.1 L515.7,286.3 L523.7,288.4 L531.7,290.3 L539.7,292.0 L547.7,293.5 L555.7,294.9 L563.7,296.1 L571.7,297.1 L579.8,298.0 L587.8,298.7 L595.8,299.2 L603.8,299.7 L611.8,299.9 L619.8,300.1 L627.8,300.1 L635.8,300.0 L643.8,299.7 L651.8,299.4 L659.8,298.9 L667.8,298.4 L675.9,297.7 L683.9,297.0 L691.9,296.1 L699.9,295.2 L707.9,294.2 L715.9,293.1 L723.9,292.0 L731.9,290.8 L739.9,289.5 L747.9,288.2 L755.9,286.8 L763.9,285.4 L772.0,284.0 L780.0,282.5 L788.0,281.0 L796.0,279.4 L804.0,277.9 L812.0,276.3 M339.4,190.8 L344.8,197.9 L350.2,204.8 L355.7,211.7 L361.1,218.7 L366.5,225.6 L371.9,232.5 L377.2,239.4 L382.6,246.3 L387.9,253.2 L393.2,260.2 L398.5,267.1 L403.8,274.0 L409.2,280.9 L414.5,287.8 L419.8,294.7 L425.1,301.6 L430.5,308.6 L435.8,315.5 L441.2,322.4 L446.6,329.3 L451.9,336.2" fill="none" stroke="#d6f9fa" stroke-width="4.6" stroke-linejoin="round" clip-path="url(#cliptop)"/>
<path d="M339.4,190.8 L344.8,197.9 L350.2,204.8 L355.7,211.7 L361.1,218.7 L366.5,225.6 L371.9,232.5 L377.2,239.4 L382.6,246.3 L387.9,253.2 L393.2,260.2 L398.5,267.1 L403.8,274.0 L409.2,280.9 L414.5,287.8 L419.8,294.7 L425.1,301.6 L430.5,308.6 L435.8,315.5 L441.2,322.4 L446.6,329.3 L451.9,336.2 L457.4,343.1 L462.8,350.1 L468.2,357.0 L473.6,363.9 L479.1,370.8 L484.5,377.7 L490.0,384.6 L495.4,391.5 L500.9,398.5 L506.4,405.4 L511.8,412.3 L517.3,419.2 L522.7,426.1 L528.2,433.0 L533.6,439.9 L539.1,446.9 L544.5,453.8 L549.9,460.7 L555.3,467.6 L560.7,474.5 L566.1,481.4 L571.4,488.4 L576.8,495.3 L582.1,502.2 L587.4,509.1 L592.7,516.0 L598.0,522.9 L603.2,529.8 L608.4,536.8 L613.5,543.7 L618.5,550.6 L623.5,557.5 L628.4,564.4 L633.3,571.3 L638.0,578.3 L642.7,585.2 L647.3,592.1 L651.4,598.9 L651.4,598.9 L653.7,599.1 L656.5,599.3 L659.2,599.5 L661.9,599.6 L664.6,599.7 L667.4,599.8 L670.1,599.9 L672.8,600.0 L675.6,600.0 L678.3,600.0 L681.0,600.0 L683.7,599.9 L686.5,599.9 L689.2,599.8 L691.9,599.7 L694.7,599.5 L697.4,599.4 L700.1,599.2 L702.8,599.0 L705.6,598.8 L708.3,598.6 L711.0,598.4 L713.8,598.1 L716.5,597.8 L719.2,597.5 L721.9,597.2 L724.7,596.9 L727.4,596.5 L730.1,596.1 L732.9,595.8 L735.6,595.4 L738.3,595.0 L741.1,594.5 L743.8,594.1 L746.5,593.6 L749.2,593.2 L752.0,592.7 L754.7,592.2 L757.4,591.7 L760.2,591.2 L762.9,590.6 L765.6,590.1 L768.3,589.6 L771.1,589.0 L773.8,588.4 L776.5,587.8 L779.3,587.2 L782.0,586.6 L784.7,586.0 L787.4,585.4 L790.2,584.8 L792.9,584.2 L795.6,583.5 L798.4,582.9 L801.1,582.2 L803.8,581.5 L806.5,580.9 L809.3,580.2 L812.0,579.5" fill="none" stroke="#d6d6d6" stroke-width="1" clip-path="url(#cliptop)"/>
  <defs><linearGradient id="l1" x1="290" y1="0" x2="404" y2="0" gradientUnits="userSpaceOnUse"><stop offset="0.000" stop-color="#163d44"/><stop offset="0.789" stop-color="#163d44"/><stop offset="0.842" stop-color="#5c1616"/><stop offset="1.000" stop-color="#5c1616"/></linearGradient><linearGradient id="l2" x1="290" y1="0" x2="471" y2="0" gradientUnits="userSpaceOnUse"><stop offset="0.000" stop-color="#163d44"/><stop offset="0.376" stop-color="#163d44"/><stop offset="0.409" stop-color="#5c1616"/><stop offset="0.558" stop-color="#5c1616"/><stop offset="0.591" stop-color="#163d44"/><stop offset="0.818" stop-color="#163d44"/><stop offset="0.851" stop-color="#5c1616"/><stop offset="1.000" stop-color="#5c1616"/></linearGradient><linearGradient id="l3" x1="292" y1="0" x2="564" y2="0" gradientUnits="userSpaceOnUse"><stop offset="0.000" stop-color="#163d44"/><stop offset="0.908" stop-color="#163d44"/><stop offset="0.930" stop-color="#5c1616"/><stop offset="1.000" stop-color="#5c1616"/></linearGradient></defs>
  <rect x="290" y="247.1" width="114" height="1.8" fill="url(#l1)"/>
  <circle cx="404" cy="248" r="3.8" fill="#6a1212"/>
  <rect x="290" y="397.6" width="181" height="1.8" fill="url(#l2)"/>
  <circle cx="471" cy="398.5" r="3.8" fill="#6a1212"/>
  <rect x="292" y="566.3" width="272" height="2" fill="url(#l3)"/>
  <circle cx="564.3" cy="566.5" r="5" fill="#761212"/>
  <path d="M58.6,386.3 L63.4,391.7" stroke="#eafcfc" stroke-width="2.8" stroke-linecap="round"/>
  <rect x="0" y="792" width="800" height="8" fill="url(#gbot)"/>
  <rect x="0" y="792" width="7.5" height="8" fill="url(#gleft)"/>
</svg>
<div class="box" style="left:669px;top:739px;width:131px;height:58px;background:#3fb3bc;"></div>
<div class="box" style="left:670px;top:740px;width:130px;height:57px;background:#eef1f8;border-left:1px solid #d4fbfd;border-top:1px solid #d4fbfd;box-sizing:border-box;"></div>
<div class="box" style="left:693px;top:765.3px;width:17px;height:1.4px;background:#111;"></div>
<div class="t" id="title" style="left:262.00px;top:67.42px;font-size:31.4px;letter-spacing:-0.200px;color:#fff;">Thermal paper structure</div>
<div class="t" id="h1a" style="left:69.00px;top:156.18px;font-size:16.8px;letter-spacing:0.458px;color:#fff;">1. Protective</div>
<div class="t" id="h1b" style="left:69.00px;top:173.18px;font-size:16.8px;letter-spacing:0.550px;color:#fff;">coating</div>
<div class="t" id="p1" style="left:91.50px;top:208.84px;font-size:14.6px;letter-spacing:0.503px;color:#fff;">After special processing, thermal paper protects</div>
<div class="t" id="p2" style="left:94.00px;top:233.73px;font-size:11.9px;letter-spacing:0.453px;color:#fff;">The protective coating is uniform and effective in reducing</div>
<div class="t" id="p2b" style="left:93.00px;top:245.73px;font-size:11.9px;letter-spacing:0.683px;color:#fff;">deterioration</div>
<div class="t" id="p3" style="left:94.00px;top:264.84px;font-size:14.6px;letter-spacing:0.560px;color:#fff;">The amount possible, protect the printer thermal</div>
<div class="t" id="p4" style="left:92.00px;top:292.14px;font-size:14.6px;letter-spacing:0.496px;color:#fff;">Components are not damaged.</div>
<div class="t" id="two" style="left:38.00px;top:361.87px;font-size:35.0px;letter-spacing:-0.100px;color:#fff;transform:scaleX(0.86);transform-origin:0 0;-webkit-text-stroke:0.8px #fff;">2</div>
<div class="t" id="h2a" style="left:88.00px;top:361.78px;font-size:16.8px;letter-spacing:0.538px;color:#fff;">Heat sensitive</div>
<div class="t" id="h2b" style="left:89.00px;top:377.78px;font-size:16.8px;letter-spacing:0.717px;color:#fff;">coating</div>
<div class="t" id="q1" style="left:91.50px;top:412.84px;font-size:14.6px;letter-spacing:0.505px;color:#fff;">The heat-sensitive coating of thermal paper is uniform,</div>
<div class="t" id="q2" style="left:87.50px;top:437.14px;font-size:14.6px;letter-spacing:0.477px;color:#fff;">Clear printing, not easy to fade.</div>
<div class="t" id="h3" style="left:31.00px;top:512.18px;font-size:27.2px;letter-spacing:-0.615px;color:#fff;">3. Paper layer</div>
<div class="t" id="r1" style="left:88.00px;top:559.84px;font-size:14.6px;letter-spacing:0.518px;color:#fff;">The raw paper is treated with precise craft surface</div>
<div class="t" id="r2" style="left:87.00px;top:579.74px;font-size:14.6px;letter-spacing:0.622px;color:#fff;">Made later, used to coat photolithography.</div>
<div class="t" id="yb" style="left:717.00px;top:757.13px;font-size:19.1px;letter-spacing:-0.100px;color:#111;">Yunbo!</div>
</body>
</html>
